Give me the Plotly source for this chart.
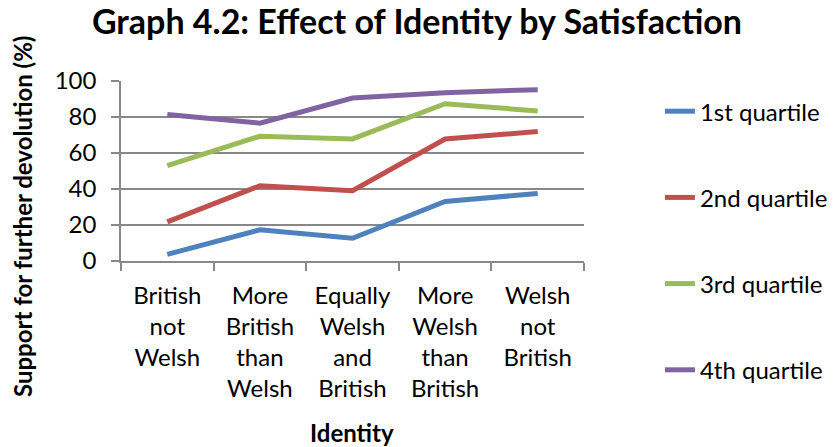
import plotly.graph_objects as go

categories = ["British<br>not<br>Welsh", "More<br>British<br>than<br>Welsh", "Equally<br>Welsh<br>and<br>British",
              "More<br>Welsh<br>than<br>British", "Welsh<br>not<br>British"]
q1 = [3.7, 17.3, 12.6, 33.1, 37.5]
q2 = [21.7, 41.8, 39.0, 67.8, 71.9]
q3 = [53.0, 69.3, 67.8, 87.4, 83.3]
q4 = [81.4, 76.6, 90.5, 93.5, 95.2]
series_names = ["1st quartile", "2nd quartile", "3rd quartile", "4th quartile"]
colors = ["#4F81BD", "#C0504D", "#9BBB59", "#8064A2"]

FONT = "Lato"
fig = go.Figure()
for i, (name, vals) in enumerate(zip(series_names, [q1, q2, q3, q4])):
    fig.add_trace(go.Scatter(x=categories, y=vals, mode="lines", name=name,
                             line=dict(color=colors[i], width=5),
                             legendgroup=f"g{i}"))

fig.update_layout(
    width=836, height=447,
    margin=dict(l=121, r=252, t=81, b=186, autoexpand=False),
    paper_bgcolor="white", plot_bgcolor="white",
    font=dict(family=FONT, size=24, color="black"),
    title=dict(text="<b>Graph 4.2: Effect of Identity by Satisfaction</b>",
               x=417 / 836, xref="container", xanchor="center",
               y=1 - 22 / 447, yref="container", yanchor="middle",
               font=dict(family=FONT, size=34, color="black")),
    showlegend=True,
    legend=dict(x=1.164, xanchor="left", y=0.955, yanchor="top",
                traceorder="grouped", tracegroupgap=52, maxheight=440,
                font=dict(family=FONT, size=24, color="black"),
                bgcolor="rgba(0,0,0,0)"),
    xaxis=dict(range=[-0.5, 4.5], showline=True, linecolor="#888888", linewidth=1.5,
               ticks="outside", tickson="boundaries", ticklen=8, tickcolor="#888888",
               tickwidth=1.5, showgrid=False, tickfont=dict(size=24),
               ticklabelstandoff=12, automargin=False),
    yaxis=dict(range=[0, 100], dtick=20, showline=True, linecolor="#888888", linewidth=1.5,
               ticks="outside", ticklen=8, tickcolor="#888888", tickwidth=1.5,
               showgrid=True, gridcolor="#888888", gridwidth=1.5, zeroline=False,
               tickfont=dict(size=24), ticklabelstandoff=10, automargin=False),
    annotations=[
        dict(text="<b>Support for further devolution (%)</b>", textangle=-90,
             xref="paper", x=-(121 - 22) / 463, xanchor="center",
             yref="paper", y=(261 - 217) / 180, yanchor="middle",
             showarrow=False, font=dict(family=FONT, size=24)),
        dict(text="<b>Identity</b>", xref="paper", x=(352 - 121) / 463, xanchor="center",
             yref="paper", y=-(432 - 261) / 180, yanchor="middle",
             showarrow=False, font=dict(family=FONT, size=24)),
    ],
)

fig.write_html("out.html")
